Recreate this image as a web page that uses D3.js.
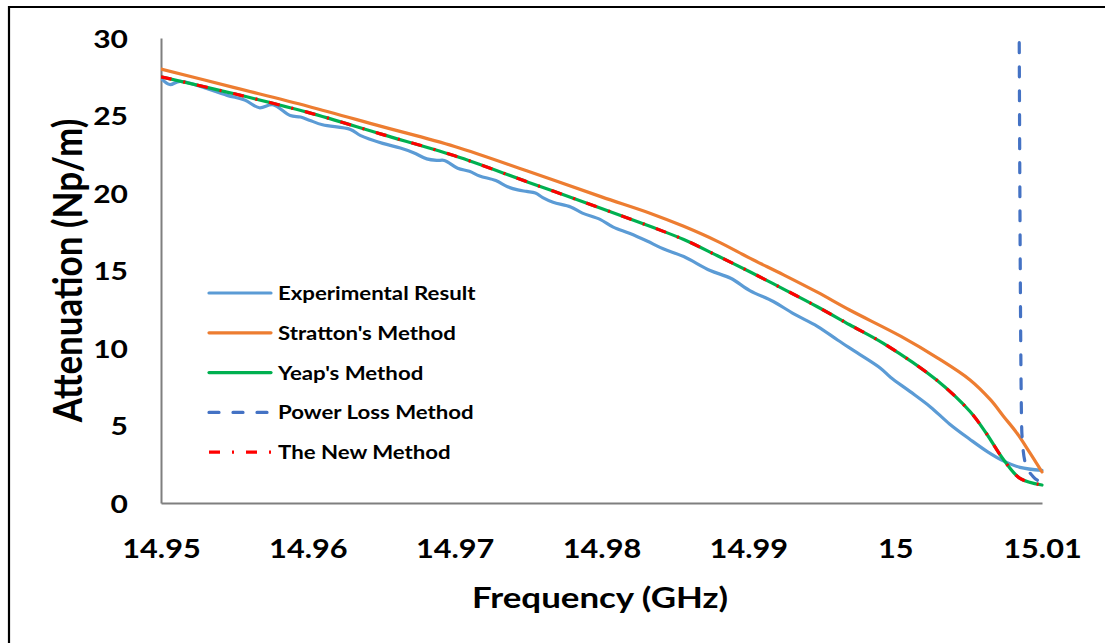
<!DOCTYPE html>
<html>
<head>
<meta charset="utf-8">
<script src="https://cdn.jsdelivr.net/npm/d3@7/dist/d3.min.js"></script>
<style>
  html, body { margin: 0; padding: 0; background: #fff; }
  svg { display: block; }
  text { font-family: Lato, "Open Sans", sans-serif; font-weight: bold; fill: #000; }
</style>
</head>
<body>
<svg id="chart" width="1105" height="643"></svg>
<script>
// ---- Data ----
const yTicks = [0, 5, 10, 15, 20, 25, 30];
const xTicks = [14.95, 14.96, 14.97, 14.98, 14.99, 15.00, 15.01];
const xTickLabels = ["14.95", "14.96", "14.97", "14.98", "14.99", "15", "15.01"];

const seriesNames = ["Experimental Result", "Stratton's Method", "Yeap's Method", "Power Loss Method", "The New Method"];

const expFreq = [14.9500, 14.9506, 14.9513, 14.9545, 14.9557, 14.9567, 14.9576, 14.9588, 14.9595, 14.9601,
  14.9610, 14.9629, 14.9636, 14.9651, 14.9663, 14.9672, 14.9681, 14.9688, 14.9693, 14.9702,
  14.9710, 14.9717, 14.9728, 14.9736, 14.9743, 14.9749, 14.9755, 14.9760, 14.9767, 14.9779,
  14.9787, 14.9799, 14.9808, 14.9819, 14.9831, 14.9842, 14.9856, 14.9874, 14.9888, 14.9901,
  14.9917, 14.9931, 14.9947, 14.9961, 14.9974, 14.9990, 14.9997, 15.0010, 15.0024, 15.0037,
  15.0051, 15.0063, 15.0074, 15.0085, 15.0100];
const expAtt = [27.4, 27.0, 27.2, 26.3, 26.0, 25.5, 25.7, 25.0, 24.9, 24.7,
  24.4, 24.1, 23.7, 23.2, 22.9, 22.6, 22.2, 22.1, 22.1, 21.6,
  21.4, 21.1, 20.8, 20.4, 20.2, 20.1, 20.0, 19.7, 19.4, 19.1,
  18.7, 18.3, 17.8, 17.4, 16.9, 16.4, 15.9, 15.0, 14.5, 13.7,
  13.0, 12.2, 11.4, 10.5, 9.7, 8.7, 8.1, 7.2, 6.2, 5.1,
  4.1, 3.3, 2.7, 2.3, 2.1];

const strFreq = [14.950, 14.955, 14.960, 14.965, 14.970, 14.975, 14.980, 14.9833, 14.9856, 14.9879,
  14.9901, 14.9924, 14.9947, 14.9969, 15.0004, 15.0029, 15.0051, 15.0065, 15.0074, 15.0083,
  15.0092, 15.0100];
const strAtt = [28.0, 26.8, 25.6, 24.3, 23.0, 21.4, 19.75, 18.7, 17.85, 16.88,
  15.8, 14.72, 13.6, 12.45, 10.75, 9.35, 7.94, 6.65, 5.57, 4.5,
  3.2, 2.0];

const yeapFreq = [14.950, 14.955, 14.960, 14.965, 14.970, 14.975, 14.980, 14.9833, 14.9856, 14.9879,
  14.9901, 14.9924, 14.9947, 14.9969, 14.9992, 15.0028, 15.0051, 15.0062, 15.0074, 15.0085,
  15.0100];
const yeapAtt = [27.5, 26.4, 25.2, 23.8, 22.4, 20.7, 19.0, 17.85, 17.0, 15.95,
  14.92, 13.8, 12.66, 11.5, 10.3, 7.95, 5.9, 4.5, 2.77, 1.59,
  1.16];

const plFreq = [15.00845, 15.00852, 15.00863, 15.00886, 15.00940, 15.0100];
const plAtt = [29.7, 15.0, 4.5, 2.6, 1.7, 1.35];

// The New Method coincides with Yeap's Method
const newFreq = yeapFreq.slice();
const newAtt = yeapAtt.slice();

// ---- Layout ----
const svg = d3.select("#chart");
const W = 1105, H = 643;
const plot = { left: 161, right: 1042, top: 38, bottom: 503 };

svg.append("rect").attr("x", 0).attr("y", 0).attr("width", W).attr("height", H).attr("fill", "#fff");
// outer frame (cropped at right/bottom)
svg.append("path")
  .attr("d", `M9,${H + 5} L9,7 L${W + 5},7`)
  .attr("fill", "none").attr("stroke", "#000").attr("stroke-width", 2.2);

const x = d3.scaleLinear().domain([14.95, 15.01]).range([plot.left, plot.right]);
const y = d3.scaleLinear().domain([0, 30]).range([plot.bottom, plot.top]);

// axes
const xAxis = d3.axisBottom(x).tickValues(xTicks).tickSize(0).tickPadding(0)
  .tickFormat((d, i) => xTickLabels[i]);
const gx = svg.append("g").attr("transform", `translate(0,${plot.bottom})`).call(xAxis);
gx.select(".domain").attr("stroke", "#7f7f7f").attr("stroke-width", 2);
gx.selectAll("text").attr("dy", null).attr("y", 0)
  .attr("transform", "translate(0,54.5) scale(1.18,1)").attr("font-size", 26)
  .style("font-family", "Lato, sans-serif").style("font-weight", "bold").attr("fill", "#000");

const yAxis = d3.axisLeft(y).tickValues(yTicks).tickSize(0).tickPadding(0);
const gy = svg.append("g").attr("transform", `translate(${plot.left},0)`).call(yAxis);
gy.select(".domain").attr("stroke", "#7f7f7f").attr("stroke-width", 2);
gy.selectAll("text").attr("dy", "0.36em").attr("x", 0)
  .attr("transform", "translate(-33,0) scale(1.2,1)").attr("font-size", 25)
  .style("font-family", "Lato, sans-serif").style("font-weight", "bold").attr("fill", "#000");

// axis titles
svg.append("text").attr("transform", "translate(600,608) scale(1.19,1)")
  .attr("text-anchor", "middle").attr("font-size", 29.3).text("Frequency (GHz)");
svg.append("text").attr("transform", `translate(82,${(plot.top + plot.bottom) / 2}) scale(1.15,1) rotate(-90)`)
  .attr("text-anchor", "middle").attr("font-size", 35).text("Attenuation (Np/m)");

// clip
svg.append("clipPath").attr("id", "clip").append("rect")
  .attr("x", plot.left).attr("y", plot.top + 3).attr("width", plot.right - plot.left + 4)
  .attr("height", plot.bottom - plot.top);

const smooth = d3.line().x(d => x(d[0])).y(d => y(d[1])).curve(d3.curveCatmullRom.alpha(0.5));
const mono = d3.line().x(d => x(d[0])).y(d => y(d[1])).curve(d3.curveMonotoneX);
const zip = (a, b) => a.map((v, i) => [v, b[i]]);

const styles = [
  { color: "#5B9BD5", dash: null, width: 3.2, cap: "round", gen: smooth },
  { color: "#ED7D31", dash: null, width: 3.2, cap: "round", gen: smooth },
  { color: "#00B050", dash: null, width: 3.2, cap: "round", gen: smooth },
  { color: "#4472C4", dash: "10,14", width: 3.2, cap: "round", gen: mono },
  { color: "#FF0000", dash: "11,12,2,12", width: 3.2, cap: "butt", gen: smooth }
];
const seriesData = [zip(expFreq, expAtt), zip(strFreq, strAtt), zip(yeapFreq, yeapAtt), zip(plFreq, plAtt), zip(newFreq, newAtt)];

const g = svg.append("g").attr("clip-path", "url(#clip)");
seriesData.forEach((data, i) => {
  const s = styles[i];
  g.append("path").datum(data).attr("d", s.gen)
    .attr("fill", "none").attr("stroke", s.color).attr("stroke-width", s.width)
    .attr("stroke-linecap", s.cap).attr("stroke-linejoin", "round")
    .attr("stroke-dasharray", s.dash);
});

// legend
const leg = svg.append("g");
seriesNames.forEach((name, i) => {
  const s = styles[i];
  const ly = 293 + i * 39.8;
  leg.append("line").attr("x1", 209).attr("x2", 271).attr("y1", ly).attr("y2", ly)
    .attr("stroke", s.color).attr("stroke-width", s.width)
    .attr("stroke-linecap", s.cap).attr("stroke-dasharray", s.dash);
  leg.append("text").attr("transform", `translate(278,${ly}) scale(1.14,1)`).attr("dy", "0.36em")
    .attr("font-size", 19.5).text(name);
});
</script>
</body>
</html>
